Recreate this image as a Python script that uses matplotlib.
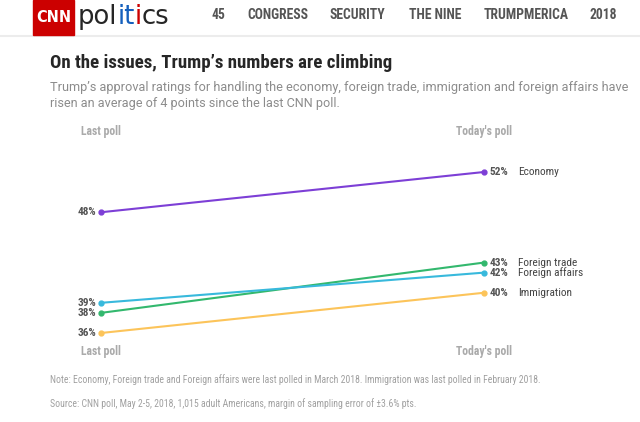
import matplotlib.pyplot as plt
from matplotlib.patches import Rectangle
import matplotlib.font_manager as fm

polls = ["Last poll", "Today's poll"]
issues = ["Economy", "Foreign trade", "Foreign affairs", "Immigration"]
last_poll = [48, 38, 39, 36]
today_poll = [52, 43, 42, 40]
colors = ["#7d3fd6", "#33b86e", "#38b9dc", "#fcc45a"]
nav_items = ["45", "CONGRESS", "SECURITY", "THE NINE", "TRUMPMERICA", "2018"]
nav_x = [211, 247, 330, 409, 484, 589]

names = {f.name for f in fm.fontManager.ttflist}
cond = next((n for n in ["Roboto Condensed", "Barlow Semi Condensed", "Archivo Narrow"] if n in names),
            "DejaVu Sans")
plain = "Roboto" if "Roboto" in names else "DejaVu Sans"
plt.rcParams["font.family"] = [cond, "DejaVu Sans"]

W, H = 640, 422
fig = plt.figure(figsize=(W / 100, H / 100), dpi=100)
renderer = fig.canvas.get_renderer()


def fx(px):
    return px / W


def fy(py):
    return 1 - py / H


def fit_text(x, y, s, width, **kw):
    t = fig.text(fx(x), fy(y), s, fontsize=10, ha="left", va="center", **kw)
    w = t.get_window_extent(renderer).width
    t.set_fontsize(10 * width / w)
    return t


# header
fig.patches.append(Rectangle((fx(33), fy(35)), fx(41), 35 / H, transform=fig.transFigure,
                             color="#cc0000", zorder=2))
fit_text(36, 18, "CNN", 35, color="white", fontweight="bold", family="DejaVu Sans", zorder=3)
probe = fit_text(78, 17, "politics", 92, family="DejaVu Sans")
size = probe.get_fontsize()
probe.remove()
x0 = 78
for part, c in [("pol", "#262626"), ("it", "#1560bd"), ("i", "#cc0000"), ("cs", "#262626")]:
    t = fig.text(fx(x0), fy(17), part, color=c, fontsize=size, ha="left", va="center",
                 family="DejaVu Sans")
    x0 += t.get_window_extent(renderer).width
probe = fit_text(247, 15, "CONGRESS", 61, fontweight="bold")
nav_size = probe.get_fontsize()
probe.remove()
for label, x in zip(nav_items, nav_x):
    fig.text(fx(x), fy(15), label, color="#555555", fontweight="bold", fontsize=nav_size,
             ha="left", va="center")
fig.lines.append(plt.Line2D([0, 1], [fy(36), fy(36)], transform=fig.transFigure,
                            color="#ececec", lw=1.5))

# title and subtitle
fit_text(50, 63, "On the issues, Trump\u2019s numbers are climbing", 343,
         fontweight="bold", color="#262626")
fit_text(50, 88, "Trump\u2019s approval ratings for handling the economy, foreign trade, "
         "immigration and foreign affairs have", 578, color="#8c8c8c", family=plain)
fit_text(50, 103, "risen an average of 4 points since the last CNN poll.", 290,
         color="#8c8c8c", family=plain)

# chart
ax = fig.add_axes([fx(101), fy(333), fx(484) - fx(101), (333 - 172) / H])
ax.set_xlim(0, 1)
ax.set_ylim(36, 52)
ax.axis("off")
for name, a, b, c in zip(issues, last_poll, today_poll, colors):
    ax.plot([0, 1], [a, b], color=c, lw=1.5, marker="o", ms=3.5, clip_on=False)
    ax.annotate(f"{a}%", (0, a), xytext=(-3.5, 0), textcoords="offset points", ha="right",
                va="center", fontsize=8.2, fontweight="bold", color="#555555")
    ax.annotate(f"{b}%", (1, b), xytext=(4, 0), textcoords="offset points", ha="left",
                va="center", fontsize=8.2, fontweight="bold", color="#555555")
    ax.annotate(name, (1, b), xytext=(24.5, 0), textcoords="offset points", ha="left",
                va="center", fontsize=8.2, color="#444444")

for py in (132, 352):
    fig.text(fx(101), fy(py), polls[0], fontsize=8.5, fontweight="bold", color="#aaaaaa",
             ha="center", va="center")
    fig.text(fx(484), fy(py), polls[1], fontsize=8.5, fontweight="bold", color="#aaaaaa",
             ha="center", va="center")

# notes
fit_text(50, 380, "Note: Economy, Foreign trade and Foreign affairs were last polled in March 2018. "
         "Immigration was last polled in February 2018.", 488, color="#a0a0a0")
fit_text(50, 404, "Source: CNN poll, May 2-5, 2018, 1,015 adult Americans, margin of sampling "
         "error of \u00b13.6% pts.", 363, color="#a0a0a0")

fig.savefig("out.png", dpi=100)
